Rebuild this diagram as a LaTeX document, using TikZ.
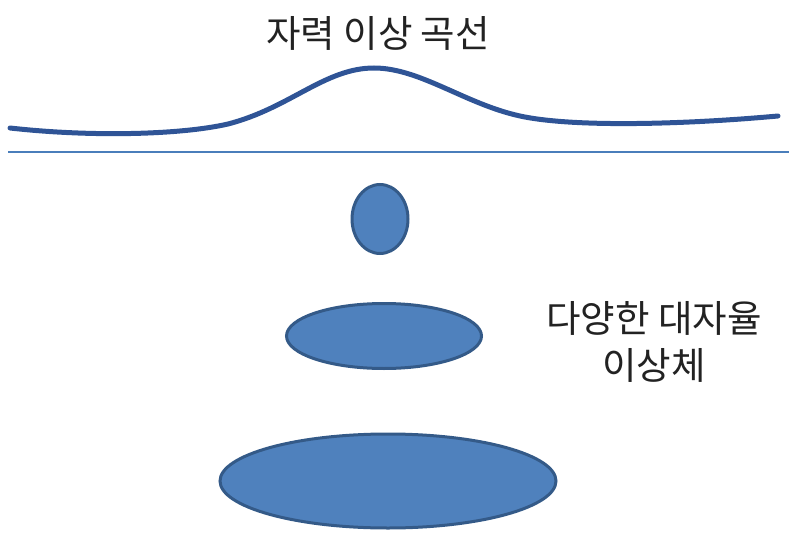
\documentclass[tikz,border=0pt]{standalone}
\usepackage{fontspec}
\newfontfamily\kr{Noto Sans CJK KR}
\usetikzlibrary{shapes.geometric}
\definecolor{bodyfill}{HTML}{4F81BD}
\definecolor{bodyedge}{HTML}{345A88}
\definecolor{curvecol}{HTML}{2F5496}
\definecolor{linecol}{HTML}{4A7EBB}
\definecolor{txt}{HTML}{222222}
\tikzset{
  body/.style={ellipse, draw=bodyedge, fill=bodyfill, line width=3pt, inner sep=0pt},
  lbl/.style={font=\kr\fontsize{37.5}{47}\selectfont, text=txt, align=center, inner sep=0pt}
}
\begin{document}
\begin{tikzpicture}[x=1pt,y=-1pt]
\useasboundingbox (0,0) rectangle (789,540);
\node[lbl] (title) at (378,33) {자력 이상 곡선};
\coordinate (c0) at (10,128);
\coordinate (c1) at (228,124);
\coordinate (c2) at (374,68);
\coordinate (c3) at (520,116);
\coordinate (c4) at (778,116);
\draw[curvecol, line width=5pt, line cap=round]
  (c0) .. controls (90,137) and (180,135) .. (c1)
  .. controls (290,108) and (325,68) .. (c2)
  .. controls (420,68) and (465,104) .. (c3)
  .. controls (575,128) and (690,124) .. (c4);
\coordinate (l0) at (8,152);
\coordinate (l1) at (789,152);
\draw[linecol, line width=2pt] (l0) -- (l1);
\node[body, minimum width=56pt, minimum height=69pt] (small) at (380,219) {};
\node[body, minimum width=195pt, minimum height=65pt] (mid) at (384,336) {};
\node[body, minimum width=336pt, minimum height=94pt] (large) at (388,481) {};
\node[lbl] (desc) at (654,342) {다양한 대자율\\이상체};
\end{tikzpicture}
\end{document}
